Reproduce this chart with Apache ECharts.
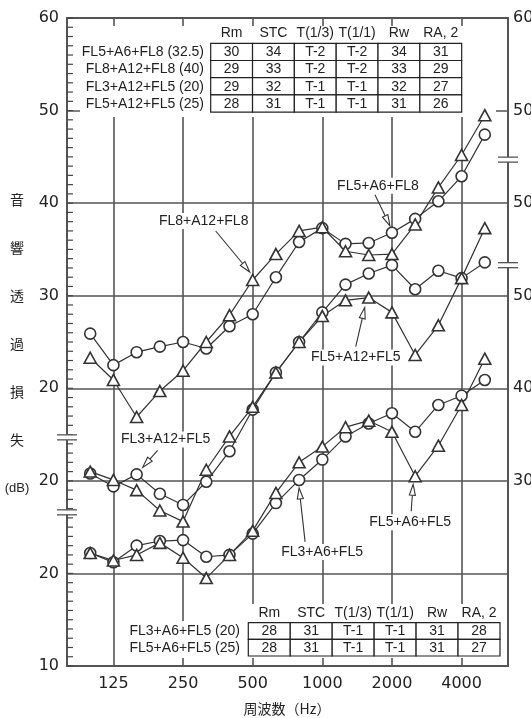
<!DOCTYPE html>
<html>
<head>
<meta charset="utf-8">
<script src="https://cdn.jsdelivr.net/npm/echarts@6/dist/echarts.min.js"></script>
<style>
  html, body { margin: 0; padding: 0; background: #fff; }
  #chart { width: 531px; height: 718px; }
</style>
</head>
<body>
<div id="chart"></div>
<script>
// One-third-octave bands of the frequency axis (outer bands only pad the frame)
const bandLabels = ['80', '100', '125', '160', '200', '250', '315', '400', '500', '630',
  '800', '1000', '1250', '1600', '2000', '2500', '3150', '4000', '5000', '6300'];
const measuredBands = ['100', '125', '160', '200', '250', '315', '400', '500', '630',
  '800', '1000', '1250', '1600', '2000', '2500', '3150', '4000', '5000'];
const octaveLabels = ['125', '250', '500', '1000', '2000', '4000'];

// Sound transmission loss (dB), upper pair
const fl5a6fl8 = [25.9, 22.5, 23.9, 24.5, 25.0, 24.3, 26.7, 28.0, 32.0, 35.8, 37.3, 35.6, 35.7, 36.8, 38.3, 40.2, 42.9, 47.4];
const fl8a12fl8 = [23.3, 20.9, 16.9, 19.7, 21.9, 25.0, 27.9, 31.7, 34.5, 37.0, 37.4, 34.8, 34.4, 34.5, 37.7, 41.7, 45.2, 49.5];
// middle pair
const fl3a12fl5 = [20.8, 19.4, 20.7, 18.6, 17.4, 19.9, 23.2, 27.7, 31.7, 35.0, 38.2, 41.2, 42.4, 43.3, 40.7, 42.7, 41.9, 43.6];
const fl5a12fl5 = [21.0, 20.1, 19.0, 16.8, 15.6, 21.2, 24.8, 28.0, 31.7, 35.0, 37.8, 39.5, 39.8, 38.2, 33.6, 36.8, 41.9, 47.3];
// lower pair
const fl3a6fl5 = [22.2, 21.2, 23.0, 23.5, 23.6, 21.8, 22.0, 24.3, 27.6, 30.1, 32.3, 34.8, 36.2, 37.3, 35.3, 38.2, 39.2, 40.9];
const fl5a6fl5 = [22.2, 21.4, 22.0, 23.3, 21.7, 19.5, 22.0, 24.6, 28.7, 32.0, 33.7, 35.8, 36.5, 35.3, 30.5, 33.8, 38.2, 43.2];

// Tick labels shown for each offset scale
const upperLeftTicks = [20, 30, 40, 50, 60];
const upperRightTicks = [50, 60];
const middleLeftTicks = [20];
const middleRightTicks = [50];
const lowerLeftTicks = [10, 20];
const lowerRightTicks = [30, 40, 50];

// Rating tables
const ratingHeads = ['Rm', 'STC', 'T(1/3)', 'T(1/1)', 'Rw', 'RA, 2'];
const upperNames = ['FL5+A6+FL8 (32.5)', 'FL8+A12+FL8 (40)', 'FL3+A12+FL5 (20)', 'FL5+A12+FL5 (25)'];
const upperRatings = [
  ['30', '34', 'T-2', 'T-2', '34', '31'],
  ['29', '33', 'T-2', 'T-2', '33', '29'],
  ['29', '32', 'T-1', 'T-1', '32', '27'],
  ['28', '31', 'T-1', 'T-1', '31', '26']
];
const lowerNames = ['FL3+A6+FL5 (20)', 'FL5+A6+FL5 (25)'];
const lowerRatings = [
  ['28', '31', 'T-1', 'T-1', '31', '28'],
  ['28', '31', 'T-1', 'T-1', '31', '27']
];

const yTitleChars = ['音', '響', '透', '過', '損', '失', '(dB)'];
const xTitle = '周波数（Hz）';

const INK = '#333';
const GRID = '#555';
const TXT = '#222';
const NUM_FONT = 'DejaVu Sans';
const LAT_FONT = 'Liberation Sans, Arial, sans-serif';
const CJK_FONT = 'Noto Sans CJK JP';

const chart = echarts.init(document.getElementById('chart'), null, { renderer: 'canvas' });

function valueAxis(min, position, ticks, primary) {
  return {
    type: 'value',
    min: min,
    max: min + 70,
    interval: 10,
    position: position,
    axisLine: { show: false },
    axisTick: { show: false },
    splitLine: { show: primary, lineStyle: { color: GRID, width: 1.6 } },
    axisLabel: {
      formatter: v => (ticks.indexOf(v) >= 0 ? String(v) : ''),
      margin: position === 'left' ? 8 : 5,
      fontFamily: NUM_FONT,
      fontSize: 16,
      color: TXT
    }
  };
}

function curve(name, values, symbol, axisIndex) {
  return {
    name: name,
    type: 'line',
    yAxisIndex: axisIndex,
    data: measuredBands.map((f, i) => [f, values[i]]),
    symbol: symbol,
    symbolSize: symbol === 'circle' ? 11 : [12, 11],
    showSymbol: true,
    showAllSymbol: true,
    lineStyle: { color: INK, width: 1.2 },
    itemStyle: { color: '#fff', borderColor: INK, borderWidth: 1.6 },
    z: 5,
    animation: false
  };
}

const octaveSet = i => octaveLabels.indexOf(bandLabels[i]) >= 0;

chart.setOption({
  animation: false,
  backgroundColor: '#fff',
  grid: {
    left: 67, right: 23, top: 18, bottom: 52,
    show: true, borderColor: GRID, borderWidth: 2, backgroundColor: 'transparent',
    outerBoundsMode: 'none'
  },
  xAxis: {
    type: 'category',
    data: bandLabels,
    boundaryGap: false,
    axisLine: { show: false },
    axisTick: { show: false },
    splitLine: { show: true, interval: (i) => octaveSet(i), lineStyle: { color: GRID, width: 1.6 } },
    axisLabel: {
      interval: (i) => octaveSet(i),
      margin: 10,
      fontFamily: NUM_FONT,
      fontSize: 16,
      color: TXT
    }
  },
  yAxis: [
    valueAxis(-10, 'left', upperLeftTicks, true),
    valueAxis(-10, 'right', upperRightTicks, false),
    valueAxis(0, 'left', middleLeftTicks, false),
    valueAxis(0, 'right', middleRightTicks, false),
    valueAxis(10, 'left', lowerLeftTicks, false),
    valueAxis(10, 'right', lowerRightTicks, false)
  ],
  series: [
    curve('FL5+A6+FL8', fl5a6fl8, 'circle', 0),
    curve('FL8+A12+FL8', fl8a12fl8, 'triangle', 0),
    curve('FL3+A12+FL5', fl3a12fl5, 'circle', 2),
    curve('FL5+A12+FL5', fl5a12fl5, 'triangle', 2),
    curve('FL3+A6+FL5', fl3a6fl5, 'circle', 4),
    curve('FL5+A6+FL5', fl5a6fl5, 'triangle', 4)
  ]
});

// ---- annotations, tables, ruler ticks and axis-break marks ----
const g = [];

function text(str, x, y, opts) {
  g.push({
    type: 'text', x: x, y: y, z: opts.z || 20, silent: true,
    style: Object.assign({
      text: str, fill: TXT, font: opts.font,
      align: opts.align || 'center', verticalAlign: 'middle'
    }, opts.bg ? { backgroundColor: '#fff', padding: [1, 2] } : {})
  });
}

function whiteBox(x, y, w, h) {
  g.push({ type: 'rect', z: 1, silent: true, shape: { x: x, y: y, width: w, height: h }, style: { fill: '#fff' } });
}

function table(names, rows, left, top, colW, rowH, headY, nameRight) {
  const font = '14px ' + LAT_FONT;
  ratingHeads.forEach((h, c) => text(h, left + colW * (c + 0.5), headY, { font: font }));
  rows.forEach((row, r) => {
    const cy = top + rowH * (r + 0.5);
    text(names[r], nameRight, cy + 0.5, { font: font, align: 'right' });
    row.forEach((cell, c) => {
      g.push({
        type: 'rect', z: 15, silent: true,
        shape: { x: left + colW * c, y: top + rowH * r, width: colW, height: rowH },
        style: { fill: '#fff', stroke: '#222', lineWidth: 1.2 }
      });
      text(cell, left + colW * (c + 0.5), cy + 0.5, { font: font });
    });
  });
}

whiteBox(80, 26, 416, 91);
whiteBox(128, 621, 116, 37);
whiteBox(244, 604, 258, 54);

table(upperNames, upperRatings, 210.7, 43.3, 41.83, 17.2, 33, 204);
table(lowerNames, lowerRatings, 248.3, 622.7, 41.95, 16.65, 613, 240);

// 1 dB ruler ticks on the inside of the left frame, placed through the primary scale
const frameLeft = chart.convertToPixel({ xAxisIndex: 0 }, bandLabels[0]);
for (let v = -10; v <= 60; v += 1) {
  const y = chart.convertToPixel({ yAxisIndex: 0 }, v);
  g.push({
    type: 'line', z: 3, silent: true,
    shape: { x1: frameLeft, y1: y, x2: frameLeft + 6, y2: y },
    style: { stroke: '#444', lineWidth: 1.2 }
  });
}

// Callout labels with open arrowheads pointing at a measured point
const callouts = [
  { text: 'FL8+A12+FL8', series: 1, values: fl8a12fl8, band: '500', tip: [-3, -8], tail: [-37, -49], label: [-49, -59] },
  { text: 'FL5+A6+FL8', series: 0, values: fl5a6fl8, band: '2000', tip: [-2, -7], tail: [-17, -38], label: [-14, -47] },
  { text: 'FL3+A12+FL5', series: 2, values: fl3a12fl5, band: '160', tip: [6, -7], tail: [21, -24], label: [29, -35] },
  { text: 'FL5+A12+FL5', series: 3, values: fl5a12fl5, band: '1600', tip: [-4, 10], tail: [-13, 49], label: [-13, 60] },
  { text: 'FL3+A6+FL5', series: 4, values: fl3a6fl5, band: '800', tip: [0, 8], tail: [6, 62], label: [23, 72] },
  { text: 'FL5+A6+FL5', series: 5, values: fl5a6fl5, band: '2500', tip: [-2, 8], tail: [-4, 35], label: [-5, 46] }
];

callouts.forEach(c => {
  const idx = measuredBands.indexOf(c.band);
  const p = chart.convertToPixel({ seriesIndex: c.series }, [c.band, c.values[idx]]);
  const tip = [p[0] + c.tip[0], p[1] + c.tip[1]];
  const tail = [p[0] + c.tail[0], p[1] + c.tail[1]];
  const dx = tip[0] - tail[0], dy = tip[1] - tail[1];
  const len = Math.hypot(dx, dy);
  const ux = dx / len, uy = dy / len, nx = -uy, ny = ux;
  const hl = 11, hw = 3;
  g.push({
    type: 'line', z: 18, silent: true,
    shape: { x1: tail[0], y1: tail[1], x2: tip[0] - ux * hl, y2: tip[1] - uy * hl },
    style: { stroke: INK, lineWidth: 1.1 }
  });
  g.push({
    type: 'polygon', z: 18, silent: true,
    shape: { points: [tip, [tip[0] - ux * hl + nx * hw, tip[1] - uy * hl + ny * hw], [tip[0] - ux * hl - nx * hw, tip[1] - uy * hl - ny * hw]] },
    style: { fill: '#fff', stroke: INK, lineWidth: 1.1 }
  });
  text(c.text, p[0] + c.label[0], p[1] + c.label[1], { font: '14px ' + LAT_FONT, bg: true });
});

// Axis-break marks where one offset scale hands over to the next
const breaks = [
  { axis: 0, value: 14.7, x: 67 },
  { axis: 4, value: 26.6, x: 67 },
  { axis: 1, value: 44.7, x: 508 },
  { axis: 3, value: 43.3, x: 508 }
];
breaks.forEach(b => {
  const y = chart.convertToPixel({ yAxisIndex: b.axis }, b.value);
  g.push({ type: 'rect', z: 19, silent: true, shape: { x: b.x - 10, y: y - 2.5, width: 20, height: 5 }, style: { fill: '#fff' } });
  [-2.5, 2.5].forEach(o => g.push({
    type: 'line', z: 19, silent: true,
    shape: { x1: b.x - 10, y1: y + o, x2: b.x + 10, y2: y + o },
    style: { stroke: GRID, lineWidth: 1.3 }
  }));
});

// Axis titles
yTitleChars.forEach((ch, i) => {
  const isUnit = ch === '(dB)';
  text(ch, 17, 199.6 + i * 48.1, { font: (isUnit ? '13px ' + LAT_FONT : '14px ' + CJK_FONT) });
});
text(xTitle, 287, 709, { font: '14px ' + CJK_FONT });

chart.setOption({ graphic: { elements: g } });
</script>
</body>
</html>
